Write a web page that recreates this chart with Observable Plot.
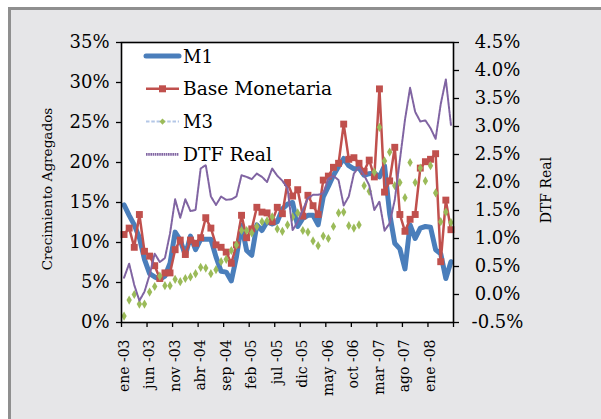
<!DOCTYPE html>
<html>
<head>
<meta charset="utf-8">
<script src="https://cdn.jsdelivr.net/npm/d3@7"></script>
<script src="https://cdn.jsdelivr.net/npm/@observablehq/plot@0.6"></script>
<style>
  html, body { margin: 0; padding: 0; background: #ffffff; }
  #wrap { position: relative; width: 601px; height: 419px; overflow: hidden; background: #ffffff; }
  #frame { position: absolute; left: 8px; top: 7px; width: 640px; height: 460px; background: #e6e6e8;
           border-left: 3px solid #8f8f8f; border-top: 3px solid #8f8f8f; box-sizing: border-box; }
  #chart { position: absolute; left: 0; top: 0; }
  #overlay { position: absolute; left: 0; top: 0; pointer-events: none; }
</style>
</head>
<body>
<div id="wrap">
  <div id="frame"></div>
  <div id="chart"></div>
  <svg id="overlay" width="601" height="419"></svg>
</div>
<script>
// ---- Data (monthly, ene-03 .. may-08) ----
const xLabels = ["ene -03","jun -03","nov -03","abr -04","sep -04","feb -05","jul -05","dic -05","may -06","oct -06","mar -07","ago -07","ene -08"];
const M1 = [14.7,13.4,12.2,10.6,7.9,6.1,5.7,5.4,5.8,7.4,11.3,10.3,8.4,10.8,9.1,10.4,10.4,10.4,8.2,6.4,6.3,5.2,
            8.2,12.2,9.0,8.4,12.2,11.5,12.6,12.3,12.6,14.2,14.8,15.0,12.0,13.0,13.4,13.4,12.2,15.7,17.0,18.4,19.5,
            20.5,19.6,19.2,19.3,18.4,18.6,18.7,18.2,19.6,13.6,9.9,9.2,6.7,12.2,10.5,11.8,12.0,11.9,9.1,8.6,5.5,7.6];
const BASE = [11.0,11.8,9.4,13.5,8.9,8.3,7.1,5.5,6.2,6.2,9.1,10.3,8.5,10.3,9.9,10.6,13.1,11.8,9.7,9.4,8.8,7.4,
              9.7,13.4,10.6,11.7,14.4,13.8,13.7,12.6,14.4,13.6,17.5,15.8,16.6,13.3,15.9,14.6,13.5,17.8,18.3,19.4,19.9,
              24.8,20.4,20.6,19.9,18.9,20.3,18.2,29.2,16.3,17.7,21.9,13.5,11.4,12.9,13.5,19.3,20.1,20.4,21.1,7.6,15.3,11.6];
const M3 = [0.8,2.8,3.5,2.3,2.3,3.8,4.5,5.8,4.6,4.6,5.4,5.1,5.5,5.7,6.1,6.9,6.8,6.1,6.6,7.6,7.9,9.0,
            9.7,11.5,11.5,11.2,12.0,12.6,12.7,13.2,11.7,11.4,12.2,13.2,13.7,11.5,11.3,10.2,9.6,10.8,10.5,12.0,13.7,
            13.8,12.1,11.8,12.2,17.1,16.4,18.8,24.4,20.2,21.3,17.1,17.5,15.6,20.0,17.5,19.3,17.7,19.6,16.2,12.6,13.8,12.5];
const DTF = [0.30,0.55,0.17,-0.11,0.05,0.35,0.73,0.58,0.65,1.09,1.70,1.37,1.70,1.49,1.51,2.25,2.31,1.75,1.60,1.75,1.69,1.70,
             1.75,2.13,2.10,2.06,2.16,2.10,2.01,2.25,2.12,2.03,1.90,1.15,1.30,1.51,1.72,1.78,1.78,1.81,2.07,2.12,2.04,
             1.59,1.75,2.16,2.28,2.13,1.95,1.51,1.66,1.14,1.27,1.69,2.40,3.12,3.69,3.26,3.09,3.11,2.97,2.78,3.40,3.84,3.03];
const leftTicks = [0,5,10,15,20,25,30,35];
const rightTicks = [-0.5,0.0,0.5,1.0,1.5,2.0,2.5,3.0,3.5,4.0,4.5];

// ---- Build table ----
const n = M1.length;
const data = d3.range(n).map(i => ({i, m1: M1[i], base: BASE[i], m3: M3[i], dtf: DTF[i]}));
const rMin = rightTicks[0], rMax = rightTicks[rightTicks.length - 1];
const lMin = leftTicks[0], lMax = leftTicks[leftTicks.length - 1];
const toLeft = v => lMin + (v - rMin) / (rMax - rMin) * (lMax - lMin);
const fromLeft = v => rMin + (v - lMin) / (lMax - lMin) * (rMax - rMin);
const xDomain = [-0.5, n - 0.5];
const catTicks = d3.range(-0.5, n, 5);
const labelPos = xLabels.map((_, k) => k * 5);

const chart = Plot.plot({
  width: 601, height: 419,
  marginLeft: 121, marginRight: 148, marginTop: 42, marginBottom: 97,
  style: {background: "transparent", fontFamily: "'DejaVu Serif', serif", color: "#000", overflow: "visible"},
  x: {type: "linear", domain: xDomain},
  y: {domain: [lMin, lMax]},
  marks: [
    Plot.frame({fill: "#ffffff", stroke: "none"}),
    Plot.line(data, {x: "i", y: "m1", stroke: "#4a7ebb", strokeWidth: 5, strokeLinejoin: "round", strokeLinecap: "round"}),
    Plot.line(data, {x: "i", y: "base", stroke: "#c0504d", strokeWidth: 2.5, strokeLinejoin: "round"}),
    Plot.dot(data, {x: "i", y: "base", symbol: "square", r: 3.9, fill: "#c0504d"}),
    Plot.dot(data, {x: "i", y: "m3", symbol: "diamond", r: 2.8, fill: "#9bbb59"}),
    Plot.line(data, {x: "i", y: d => toLeft(d.dtf), stroke: "#8064a2", strokeWidth: 2, strokeDasharray: "3,1"}),
    Plot.frame({stroke: "#000", strokeWidth: 1.6}),
    Plot.axisY({anchor: "left", ticks: leftTicks, tickFormat: d => d + "%", tickSize: 5, tickPadding: 7,
                fontSize: 18, label: null, stroke: "#000", strokeWidth: 1.3}),
    Plot.axisY({anchor: "right", ticks: rightTicks.map(toLeft), tickFormat: d => fromLeft(d).toFixed(1) + "%",
                tickSize: 5, tickPadding: 39, textAnchor: "middle", fontSize: 18, label: null, stroke: "#000", strokeWidth: 1.3}),
    Plot.axisX({ticks: catTicks, tickFormat: () => "", tickSize: 5, label: null, stroke: "#000", strokeWidth: 1.3}),
    Plot.axisX({ticks: labelPos, tickFormat: d => xLabels[d / 5], tickSize: 0, tickPadding: 17, tickRotate: -90,
                fontSize: 14, label: null})
  ]
});
document.getElementById("chart").appendChild(chart);

// ---- Legend and axis titles (overlay) ----
const ov = d3.select("#overlay");
const font = "'DejaVu Serif', serif";
const legend = [
  {name: "M1", color: "#4a7ebb", width: 5, dash: null, marker: null, len: null},
  {name: "Base Monetaria", color: "#c0504d", width: 2.5, dash: null, marker: "square", len: 149},
  {name: "M3", color: "#b4c7e7", width: 2, dash: "3.5,1.8", marker: "diamond", len: null},
  {name: "DTF Real", color: "#8064a2", width: 2.6, dash: "1.6,0.6", marker: null, len: 89}
];
legend.forEach((d, k) => {
  const y = 56 + k * 32.8;
  ov.append("line").attr("x1", 146).attr("x2", 179).attr("y1", y).attr("y2", y)
    .attr("stroke", d.color).attr("stroke-width", d.width)
    .attr("stroke-linecap", d.marker === null && d.dash === null ? "round" : "butt")
    .attr("stroke-dasharray", d.dash);
  if (d.marker === "square") ov.append("rect").attr("x", 159).attr("y", y - 3.5).attr("width", 7).attr("height", 7).attr("fill", "#c0504d");
  if (d.marker === "diamond") ov.append("path").attr("d", `M162.5,${y-3.2}L165.5,${y}L162.5,${y+3.2}L159.5,${y}Z`).attr("fill", "#9bbb59");
  const t = ov.append("text").attr("x", 183).attr("y", y + 6.6).attr("font-family", font).attr("font-size", 18)
    .attr("fill", "#000").text(d.name);
  if (d.len) t.attr("textLength", d.len).attr("lengthAdjust", "spacingAndGlyphs");
});
ov.append("text").attr("transform", "translate(52,189) rotate(-90)").attr("text-anchor", "middle")
  .attr("font-family", font).attr("font-size", 13.6).attr("fill", "#000").text("Crecimiento Agregados");
ov.append("text").attr("transform", "translate(551,190) rotate(-90)").attr("text-anchor", "middle")
  .attr("font-family", font).attr("font-size", 14).attr("fill", "#000").text("DTF Real");
</script>
</body>
</html>
